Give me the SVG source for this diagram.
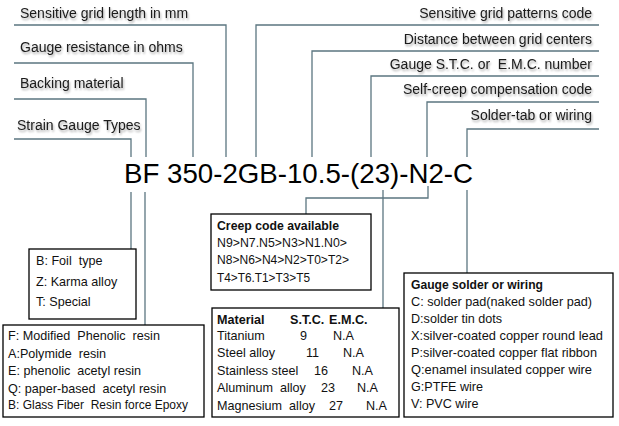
<svg xmlns="http://www.w3.org/2000/svg" width="619" height="426" viewBox="0 0 619 426">
<defs>
<style>
.hd{font-family:"Liberation Sans",Arial,sans-serif;font-size:14px;fill:#1a1a1a;filter:url(#sh)}
.r{text-anchor:end}
.code{font-family:"Liberation Sans",Arial,sans-serif;font-size:28px;fill:#000}
.t{font-family:"Liberation Sans",Arial,sans-serif;font-size:12.6px;fill:#111}
.b{font-weight:bold}
.ln{fill:none;stroke:#5b7680;stroke-width:1.3}
.box{fill:#fff;stroke:#000;stroke-width:1.3}
</style>
<filter id="sh" x="-5%" y="-40%" width="115%" height="190%">
<feGaussianBlur in="SourceAlpha" stdDeviation="1.2"/>
<feOffset dx="1" dy="1.5"/>
<feComponentTransfer><feFuncA type="linear" slope="0.35"/></feComponentTransfer>
<feMerge><feMergeNode/><feMergeNode in="SourceGraphic"/></feMerge>
</filter>
</defs>
<rect width="619" height="426" fill="#fff"/>

<g id="connectors">
<path class="ln" d="M14,25 H226 V157"/>
<path class="ln" d="M14,63 H193 V157"/>
<path class="ln" d="M14,99 H146 V157"/>
<path class="ln" d="M14,139 H131 V157"/>
<path class="ln" d="M599,25 H256 V157"/>
<path class="ln" d="M599,51 H312 V157"/>
<path class="ln" d="M599,76 H371 V157"/>
<path class="ln" d="M599,102 H427 V157"/>
<path class="ln" d="M599,129 H467 V157"/>
<path class="ln" d="M131,192 V249"/>
<path class="ln" d="M145,192 V325"/>
<path class="ln" d="M383,190 V308"/>
<path class="ln" d="M428,186 V198 H306 V214"/>
<path class="ln" d="M467,190 V273"/>
</g>

<g id="labels">
<text class="hd" x="20" y="18">Sensitive grid length in mm</text>
<text class="hd" x="20" y="52">Gauge resistance in ohms</text>
<text class="hd" x="20" y="88">Backing material</text>
<text class="hd" x="17" y="130">Strain Gauge Types</text>
<text class="hd r" x="592" y="18">Sensitive grid patterns code</text>
<text class="hd r" x="592" y="44">Distance between grid centers</text>
<text class="hd r" x="592" y="69" xml:space="preserve">Gauge S.T.C. or  E.M.C. number</text>
<text class="hd r" x="592" y="94">Self-creep compensation code</text>
<text class="hd r" x="592" y="120">Solder-tab or wiring</text>
</g>

<g id="code">
<text class="code" x="124" y="183" textLength="349" lengthAdjust="spacingAndGlyphs">BF 350-2GB-10.5-(23)-N2-C</text>
</g>

<g id="types">
<rect class="box" x="29" y="249" width="107" height="70"/>
<text class="t" x="36" y="265" xml:space="preserve">B: Foil  type</text>
<text class="t" x="36" y="286">Z: Karma alloy</text>
<text class="t" x="36" y="306">T: Special</text>
</g>

<g id="backing">
<rect class="box" x="3" y="325" width="201" height="92"/>
<text class="t" x="8" y="340" xml:space="preserve">F: Modified  Phenolic  resin</text>
<text class="t" x="8" y="358" xml:space="preserve">A:Polymide  resin</text>
<text class="t" x="8" y="375" xml:space="preserve">E: phenolic  acetyl resin</text>
<text class="t" x="8" y="393" xml:space="preserve">Q: paper-based  acetyl resin</text>
<text class="t" x="8" y="409" xml:space="preserve" textLength="180" lengthAdjust="spacingAndGlyphs">B: Glass Fiber  Resin force Epoxy</text>
</g>

<g id="creep">
<rect class="box" x="211" y="214" width="160" height="76"/>
<text class="t b" x="217" y="230" textLength="122" lengthAdjust="spacingAndGlyphs">Creep code available</text>
<text class="t" x="217" y="247" textLength="130" lengthAdjust="spacingAndGlyphs">N9&gt;N7.N5&gt;N3&gt;N1.N0&gt;</text>
<text class="t" x="217" y="264" textLength="132" lengthAdjust="spacingAndGlyphs">N8&gt;N6&gt;N4&gt;N2&gt;T0&gt;T2&gt;</text>
<text class="t" x="217" y="282" textLength="93" lengthAdjust="spacingAndGlyphs">T4&gt;T6.T1&gt;T3&gt;T5</text>
</g>

<g id="material">
<rect class="box" x="212" y="308" width="187" height="109"/>
<text class="t b" x="217" y="324">Material</text>
<text class="t b" x="290" y="324">S.T.C.</text>
<text class="t b" x="329" y="324">E.M.C.</text>
<text class="t" x="217" y="340">Titanium</text>
<text class="t" x="300" y="340">9</text>
<text class="t" x="333" y="340">N.A</text>
<text class="t" x="217" y="357">Steel alloy</text>
<text class="t" x="306" y="357">11</text>
<text class="t" x="343" y="357">N.A</text>
<text class="t" x="217" y="375">Stainless steel</text>
<text class="t" x="314" y="375">16</text>
<text class="t" x="352" y="375">N.A</text>
<text class="t" x="217" y="392" xml:space="preserve">Aluminum  alloy</text>
<text class="t" x="321" y="392">23</text>
<text class="t" x="357" y="392">N.A</text>
<text class="t" x="217" y="410" xml:space="preserve">Magnesium  alloy</text>
<text class="t" x="329" y="410">27</text>
<text class="t" x="366" y="410">N.A</text>
</g>

<g id="wiring">
<rect class="box" x="404" y="273" width="209" height="144"/>
<text class="t b" x="411" y="289" textLength="132" lengthAdjust="spacingAndGlyphs">Gauge solder or wiring</text>
<text class="t" x="411" y="306" textLength="181" lengthAdjust="spacingAndGlyphs">C: solder pad(naked solder pad)</text>
<text class="t" x="411" y="323">D:solder tin dots</text>
<text class="t" x="411" y="340" textLength="192" lengthAdjust="spacingAndGlyphs">X:silver-coated copper round lead</text>
<text class="t" x="411" y="357" textLength="186" lengthAdjust="spacingAndGlyphs">P:silver-coated copper flat ribbon</text>
<text class="t" x="411" y="374" textLength="181" lengthAdjust="spacingAndGlyphs">Q:enamel insulated copper wire</text>
<text class="t" x="411" y="391">G:PTFE wire</text>
<text class="t" x="411" y="408">V: PVC wire</text>
</g>
</svg>
